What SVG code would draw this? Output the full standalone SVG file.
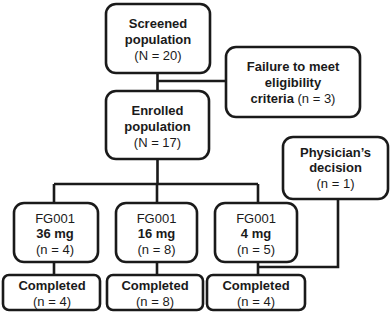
<svg xmlns="http://www.w3.org/2000/svg" width="391" height="314" viewBox="0 0 391 314">
<style>
.box{fill:#fff;stroke:#1a1a1a;stroke-width:2.6}
.ln{fill:none;stroke:#1a1a1a;stroke-width:2.6}
text{font-family:"Liberation Sans",Arial,sans-serif;font-size:13px;fill:#1a1a1a;text-anchor:middle}
.b{font-weight:bold}
</style>
<rect width="391" height="314" fill="#fff"/>
<g id="connectors">
<path class="ln" d="M157.5 73 V91 M157.5 81 H226"/>
<path class="ln" d="M157.5 159 V184 M54 184 H258 M54 184 V203 M157 184 V203 M258 184 V203"/>
<path class="ln" d="M54 262 V275 M157 262 V275 M258 262 V275 M258 267 H338 V199"/>
</g>
<g id="screened">
<rect class="box" x="106" y="4" width="104" height="69" rx="10"/>
<text x="158" y="28" class="b">Screened</text>
<text x="158" y="44" class="b">population</text>
<text x="158" y="60">(N = 20)</text>
</g>
<g id="failure">
<rect class="box" x="226" y="47" width="134" height="70" rx="10"/>
<text x="293" y="71" class="b">Failure to meet</text>
<text x="293" y="87" class="b">eligibility</text>
<text x="293" y="103"><tspan class="b">criteria</tspan> (n = 3)</text>
</g>
<g id="enrolled">
<rect class="box" x="106" y="91" width="103" height="68" rx="10"/>
<text x="157.5" y="115" class="b">Enrolled</text>
<text x="157.5" y="131" class="b">population</text>
<text x="157.5" y="147">(N = 17)</text>
</g>
<g id="physician">
<rect class="box" x="283" y="137" width="105" height="62" rx="10"/>
<text x="335.5" y="157" class="b">Physician’s</text>
<text x="335.5" y="172" class="b">decision</text>
<text x="335.5" y="188">(n = 1)</text>
</g>
<g id="fg36">
<rect class="box" x="14" y="203" width="84" height="59" rx="10"/>
<text x="55" y="223">FG001</text>
<text x="55" y="238" class="b">36 mg</text>
<text x="55" y="254">(n = 4)</text>
</g>
<g id="fg16">
<rect class="box" x="116" y="203" width="81" height="59" rx="10"/>
<text x="156.5" y="223">FG001</text>
<text x="156.5" y="238" class="b">16 mg</text>
<text x="156.5" y="254">(n = 8)</text>
</g>
<g id="fg4">
<rect class="box" x="215" y="203" width="82" height="59" rx="10"/>
<text x="256" y="223">FG001</text>
<text x="256" y="238" class="b">4 mg</text>
<text x="256" y="254">(n = 5)</text>
</g>
<g id="completed36">
<rect class="box" x="3" y="275" width="97" height="35" rx="6"/>
<text x="52" y="290" class="b">Completed</text>
<text x="52" y="306">(n = 4)</text>
</g>
<g id="completed16">
<rect class="box" x="107" y="275" width="96" height="35" rx="6"/>
<text x="155" y="290" class="b">Completed</text>
<text x="155" y="306">(n = 8)</text>
</g>
<g id="completed4">
<rect class="box" x="207" y="275" width="98" height="35" rx="6"/>
<text x="256" y="290" class="b">Completed</text>
<text x="256" y="306">(n = 4)</text>
</g>
</svg>
